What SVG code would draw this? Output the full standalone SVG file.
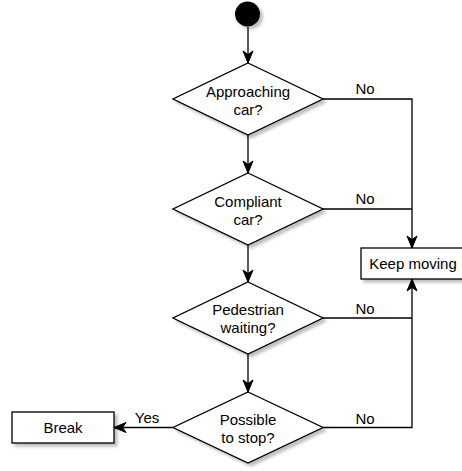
<svg xmlns="http://www.w3.org/2000/svg" width="462" height="471" viewBox="0 0 462 471">
<defs>
<filter id="sh" x="-20%" y="-20%" width="150%" height="150%">
<feGaussianBlur in="SourceAlpha" stdDeviation="1.5"/>
<feOffset dx="3" dy="3" result="o"/>
<feComponentTransfer><feFuncA type="linear" slope="0.25"/></feComponentTransfer>
<feMerge><feMergeNode/><feMergeNode in="SourceGraphic"/></feMerge>
</filter>
<marker id="arr" markerUnits="userSpaceOnUse" markerWidth="16" markerHeight="14" viewBox="-14 -7 16 14" refX="0" refY="0" orient="auto">
<path d="M0,0 L-12,-5 L-8.5,0 L-12,5 Z" fill="#000" stroke="#000" stroke-width="1" stroke-linejoin="miter"/>
</marker>
</defs>
<style>
.s{fill:#fff;stroke:#000;stroke-width:1.3}
.t{font-family:"Liberation Sans",Arial,sans-serif;font-size:15px;fill:#000;text-anchor:middle}
.e{fill:none;stroke:#000;stroke-width:1.3}
</style>
<g id="start"><circle cx="247.5" cy="14" r="12.5" fill="#000" filter="url(#sh)"/></g>
<g id="d1"><polygon class="s" filter="url(#sh)" points="248,63 323,99 248,135 173,99"/><text class="t" x="248" y="97">Approaching</text><text class="t" x="248" y="115">car?</text></g>
<g id="d2"><polygon class="s" filter="url(#sh)" points="248,173 323,209 248,245 173,209"/><text class="t" x="248" y="206.5">Compliant</text><text class="t" x="248" y="224.5">car?</text></g>
<g id="d3"><polygon class="s" filter="url(#sh)" points="248,282 323,318 248,354 173,318"/><text class="t" x="248" y="315">Pedestrian</text><text class="t" x="248" y="333">waiting?</text></g>
<g id="d4"><polygon class="s" filter="url(#sh)" points="248,392 323,427.5 248,463 173,427.5"/><text class="t" x="248" y="424.5">Possible</text><text class="t" x="248" y="442.5">to stop?</text></g>
<g id="keep"><rect class="s" filter="url(#sh)" x="361" y="248" width="102" height="31"/><text class="t" x="413" y="269">Keep moving</text></g>
<g id="break"><rect class="s" filter="url(#sh)" x="12" y="412" width="102" height="31"/><text class="t" x="63" y="433">Break</text></g>
<g id="edges">
<path class="e" d="M248,27 L248,63" marker-end="url(#arr)"/>
<path class="e" d="M248,135 L248,173" marker-end="url(#arr)"/>
<path class="e" d="M248,245 L248,282" marker-end="url(#arr)"/>
<path class="e" d="M248,354 L248,392" marker-end="url(#arr)"/>
<path class="e" d="M323,99 L412,99 L412,248" marker-end="url(#arr)"/>
<path class="e" d="M323,209 L412,209"/>
<path class="e" d="M323,318 L412,318"/>
<path class="e" d="M323,427.5 L412,427.5 L412,279" marker-end="url(#arr)"/>
<path class="e" d="M173,427.5 L114,427.5" marker-end="url(#arr)"/>
<text class="t" x="365" y="94">No</text>
<text class="t" x="365" y="204">No</text>
<text class="t" x="365" y="314">No</text>
<text class="t" x="365" y="424">No</text>
<text class="t" x="147" y="423">Yes</text>
</g>
</svg>
